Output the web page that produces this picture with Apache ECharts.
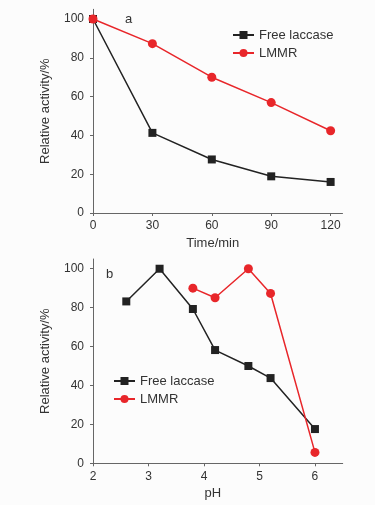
<!DOCTYPE html>
<html>
<head>
<meta charset="utf-8">
<script src="https://cdn.jsdelivr.net/npm/echarts@6/dist/echarts.min.js"></script>
<style>html,body{margin:0;padding:0;background:#fcfcfc;}#c{width:375px;height:505px;}</style>
</head>
<body>
<div id="c"></div>
<script>
// Panel a: time
const timeCats = [0, 30, 60, 90, 120];
const freeTime = [100, 41.3, 27.6, 18.9, 16.0];
const lmmrTime = [100, 87.3, 70.0, 56.9, 42.4];
// Panel b: pH
const phFree = [2.6, 3.2, 3.8, 4.2, 4.8, 5.2, 6.0];
const freePH = [83.2, 100, 79.3, 58.2, 50.0, 43.8, 17.6];
const phLmmr = [3.8, 4.2, 4.8, 5.2, 6.0];
const lmmrPH = [90.0, 85.1, 100, 87.3, 5.6];
const yTicks = [0, 20, 40, 60, 80, 100];
const xTicksA = [0, 30, 60, 90, 120];
const xTicksB = [2, 3, 4, 5, 6];

const pairs = (xs, ys) => xs.map((x, i) => [x, ys[i]]);
const font = 'Liberation Sans, Arial, sans-serif';
const axisColor = '#666';
const textColor = '#333';
const BLACK = '#222', RED = '#e8262a';

function xAxis(idx, min, max, ticks, name) {
  return {
    type: 'value', gridIndex: idx, min: min, max: max,
    name: name, nameLocation: 'middle', nameGap: 24,
    nameTextStyle: { fontFamily: font, fontSize: 13, color: textColor, padding: [0, 10, 0, 0] },
    axisLine: { lineStyle: { color: axisColor, width: 1 } },
    axisTick: { show: true, length: 3, lineStyle: { color: axisColor }, customValues: ticks },
    axisLabel: { fontFamily: font, fontSize: 12, color: textColor, margin: 7, customValues: ticks },
    splitLine: { show: false }
  };
}
function yAxis(idx) {
  return {
    type: 'value', gridIndex: idx, min: 0, max: 105,
    name: 'Relative activity/%', nameLocation: 'middle', nameGap: 41,
    nameTextStyle: { fontFamily: font, fontSize: 13, color: textColor },
    axisLine: { show: true, lineStyle: { color: axisColor, width: 1 } },
    axisTick: { show: true, length: 3, lineStyle: { color: axisColor }, customValues: yTicks },
    axisLabel: { fontFamily: font, fontSize: 12, color: textColor, margin: 9, customValues: yTicks },
    splitLine: { show: false }
  };
}
function series(name, data, idx, color, symbol, size) {
  return {
    name: name, type: 'line', xAxisIndex: idx, yAxisIndex: idx,
    data: data, symbol: symbol, symbolSize: size, showSymbol: true,
    lineStyle: { color: color, width: 1.5 },
    itemStyle: { color: color },
    emphasis: { disabled: true }, animation: false, z: symbol === 'circle' ? 3 : 2
  };
}
function legend(left, top) {
  return {
    orient: 'vertical', left: left, top: top, padding: 0,
    itemWidth: 21, itemHeight: 10, itemGap: 4,
    textStyle: { fontFamily: font, fontSize: 13, color: textColor, lineHeight: 14 },
    data: ['Free laccase', 'LMMR'], selectedMode: false
  };
}

const chart = echarts.init(document.getElementById('c'), null, { renderer: 'canvas' });
chart.setOption({
  backgroundColor: '#fcfcfc',
  animation: false,
  grid: [
    { left: 93, top: 9.3, width: 249.5, height: 203.7 },
    { left: 93, top: 259, width: 249.7, height: 204.3 }
  ],
  xAxis: [xAxis(0, 0, 126, xTicksA, 'Time/min'), xAxis(1, 2, 6.5, xTicksB, 'pH')],
  yAxis: [yAxis(0), yAxis(1)],
  legend: [legend(232, 28), legend(113, 374)],
  graphic: [
    { type: 'text', left: 125, top: 13, style: { text: 'a', font: '13px ' + font, fill: textColor } },
    { type: 'text', left: 106, top: 268, style: { text: 'b', font: '13px ' + font, fill: textColor } }
  ],
  series: [
    series('Free laccase', pairs(timeCats, freeTime), 0, BLACK, 'rect', 8),
    series('LMMR', pairs(timeCats, lmmrTime), 0, RED, 'circle', 9),
    series('Free laccase', pairs(phFree, freePH), 1, BLACK, 'rect', 8),
    series('LMMR', pairs(phLmmr, lmmrPH), 1, RED, 'circle', 9)
  ]
});
</script>
</body>
</html>
